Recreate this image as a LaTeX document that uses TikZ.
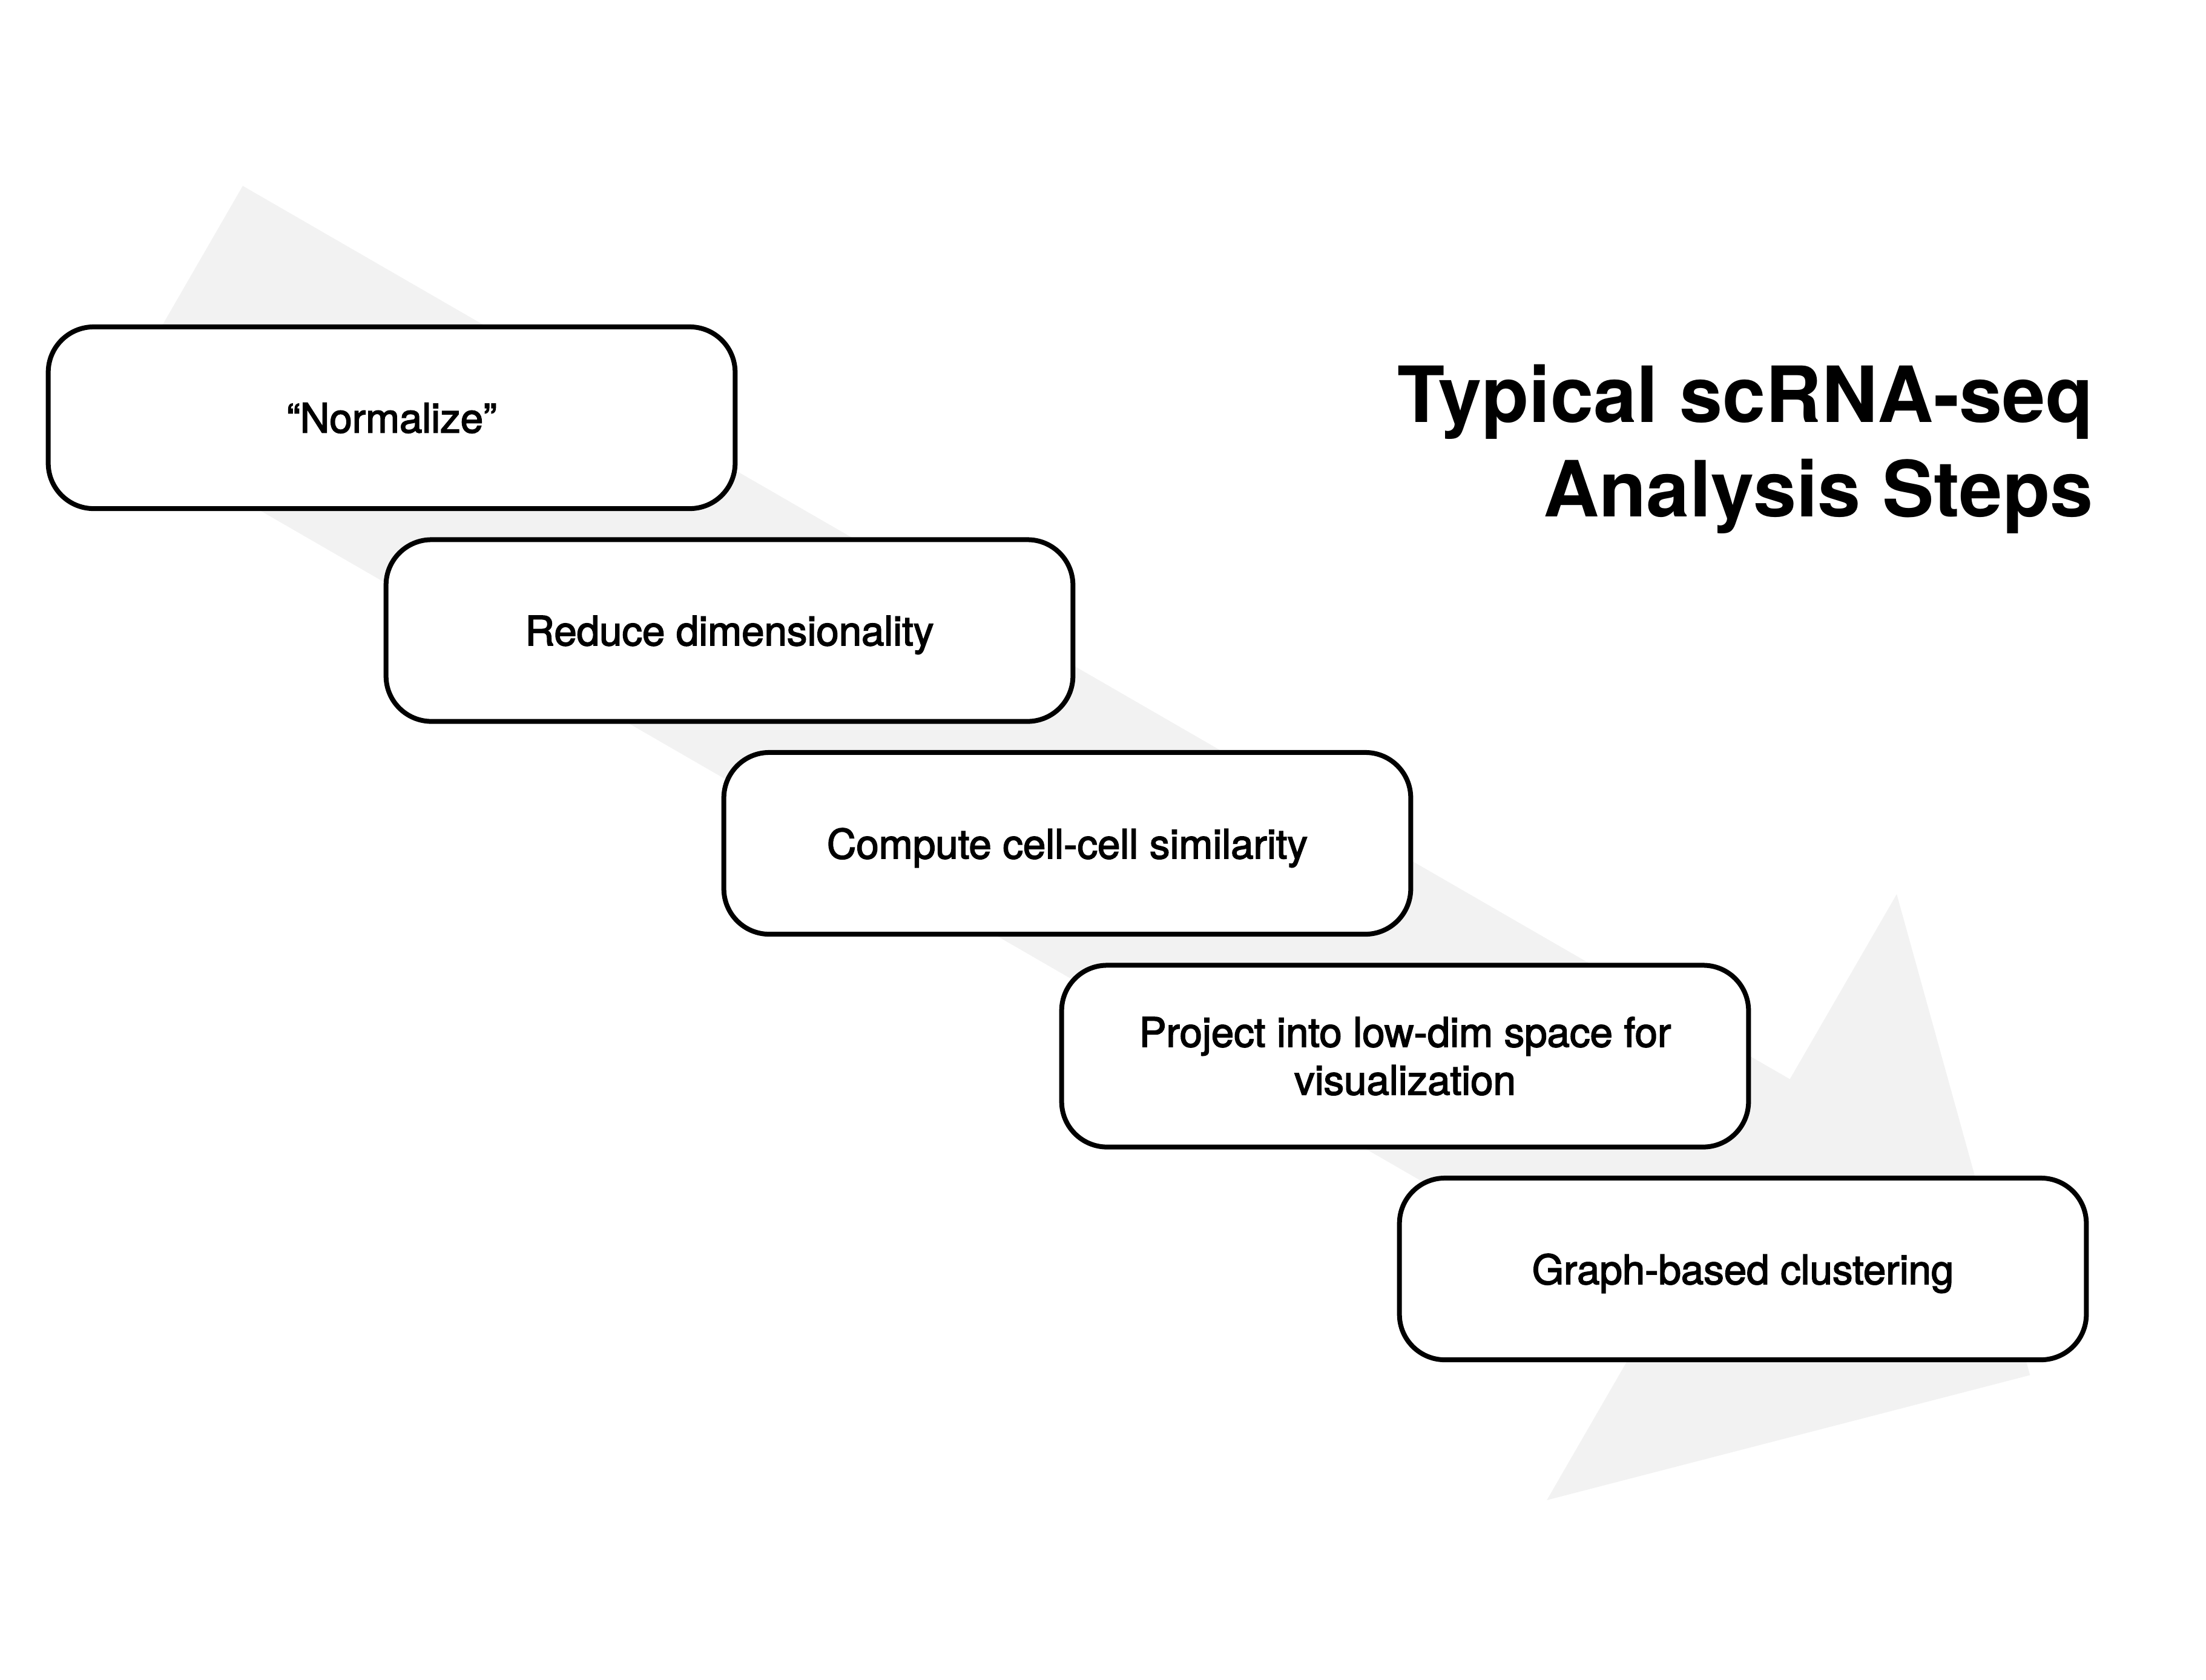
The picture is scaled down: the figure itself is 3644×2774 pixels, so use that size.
\documentclass[tikz,border=0pt]{standalone}
\usepackage{fontspec}
\setmainfont{TeX Gyre Heros}
\newfontfamily\medfont[FakeBold=2.5]{TeX Gyre Heros}
\definecolor{arrowgray}{RGB}{242,242,242}
\tikzset{
  stepbox/.style={draw=black, line width=0.08cm, rounded corners=0.75cm, fill=white,
    minimum width=11.34cm, minimum height=3cm, inner sep=0pt, align=center,
    font=\medfont\fontsize{19.1}{22.5}\selectfont},
  oneline/.style={text depth=0pt},
  titletext/.style={anchor=base east, inner sep=0pt, font=\fontsize{36.4}{44.4}\selectfont\bfseries}
}
\begin{document}
\begin{tikzpicture}[x=0.01cm,y=-0.01cm]
\useasboundingbox (0,0) rectangle (3644,2774);
% big background arrow
\fill[arrowgray] (401,307) -- (2956.6,1782.5) -- (3133.1,1476.9) -- (3353.3,2271.4)
  -- (2555.1,2477.9) -- (2731.6,2172.3) -- (176,696.8) -- cycle;
% steps
\node[stepbox, oneline] (s1) at (647,690) {“Normalize”};
\node[stepbox, oneline] (s2) at (1205,1041.5) {Reduce dimensionality};
\node[stepbox, oneline] (s3) at (1763,1393) {Compute cell-cell similarity};
\node[stepbox] (s4) at (2321,1744.5) {Project into low-dim space for\\visualization};
\node[stepbox, oneline] (s5) at (2879,2096) {Graph-based clustering};
% title
\node[titletext] (t1) at (3458,697) {Typical scRNA-seq};
\node[titletext] (t2) at (3458,853) {Analysis Steps};
\end{tikzpicture}
\end{document}
